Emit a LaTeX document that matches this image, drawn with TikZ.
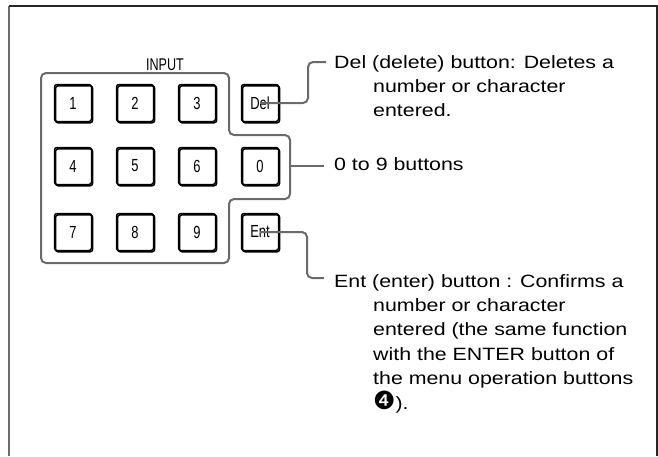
\documentclass[tikz,border=0pt]{standalone}
\usepackage{fontspec}
\setmainfont[FakeStretch=1.2]{Liberation Sans}
\newfontfamily\condfont[FakeStretch=0.74]{Liberation Sans}
\newfontfamily\dejavu{DejaVu Sans}
\definecolor{linegray}{HTML}{6A6A6A}
\newcommand\indline[1]{\hbox{\hspace*{39pt}#1}}
\tikzset{
  keybtn/.style={draw=black, line width=1.5pt, rounded corners=2.5pt,
    minimum width=37pt, minimum height=37pt, inner sep=0pt,
    font=\condfont\fontsize{17.5}{17.5}\selectfont,
    preaction={draw=black, line width=1.5pt, transform canvas={shift={(1.1pt,-1.3pt)}}}},
  conn/.style={draw=linegray, line width=2pt, rounded corners=5pt},
  desc/.style={anchor=base west, inner sep=0pt, font=\fontsize{17.8}{24.4}\selectfont},
}
\begin{document}
\begin{tikzpicture}[x=1pt,y=-1pt]
\useasboundingbox (0,0) rectangle (658,456);
% frame
\draw[linegray, line width=2pt] (9,6) -- (9,456);
\draw[black!85, line width=1.3pt] (9,6) -- (657,6) -- (657,456);
% keypad group outline
\draw[conn] (41,73) -- (229,73) -- (229,135) -- (290,135) -- (290,199)
  -- (229,199) -- (229,263) -- (41,263) -- cycle;
\node[inner sep=0pt, anchor=base, font=\condfont\fontsize{17}{17}\selectfont] (input) at (165,70) {INPUT};
% buttons
\node[keybtn] (b1) at (73,103) {1};
\node[keybtn] (b2) at (135,103) {2};
\node[keybtn] (b3) at (197,103) {3};
\node[keybtn] (bdel) at (260,103) {Del};
\node[keybtn] (b4) at (73,166) {4};
\node[keybtn] (b5) at (135,166) {5};
\node[keybtn] (b6) at (197,166) {6};
\node[keybtn] (b0) at (260,166) {0};
\node[keybtn] (b7) at (73,232) {7};
\node[keybtn] (b8) at (135,232) {8};
\node[keybtn] (b9) at (197,232) {9};
\node[keybtn] (bent) at (260,232) {Ent};
% connectors
\coordinate (deltip) at (326,62);
\coordinate (grpE) at (290,166);
\coordinate (zerotip) at (324,166);
\coordinate (enttip) at (324,278);
\draw[conn] (bdel.center) -| (308,62) -- (deltip);
\draw[conn] (grpE) -- (zerotip);
\draw[conn] (bent.center) -| (307,278) -- (enttip);
% descriptions
\node[desc] (deltext) at (334,68) {\vtop{\hbox{Del (delete) button: Deletes a}
  \indline{number or character}
  \indline{entered.}}};
\node[desc] (zerotext) at (334,170) {0 to 9 buttons};
\node[desc] (enttext) at (334,287) {\vtop{\hbox{Ent (enter) button : Confirms a}
  \indline{number or character}
  \indline{entered (the same function}
  \indline{with the ENTER button of}
  \indline{the menu operation buttons}
  \indline{{\dejavu\fontsize{25}{25}\selectfont ❹}).}}};
\end{tikzpicture}
\end{document}
